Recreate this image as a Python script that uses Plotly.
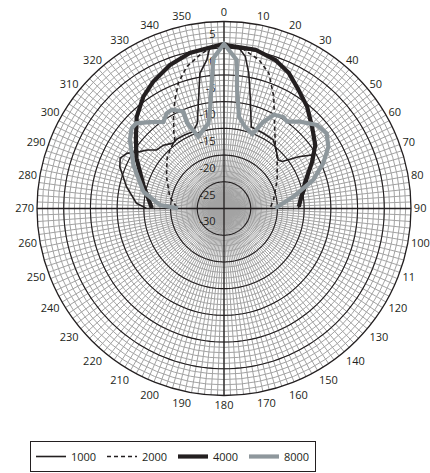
import plotly.graph_objects as go

# ---------------- data (dB, angle in degrees, clockwise from top) ----------------
theta_1000 = [270.1, 273.4, 282.6, 291.8, 295.9, 299.6, 304.1, 307.2, 311.0, 316.3, 322.1,
              325.8, 332.1, 338.0, 342.6, 345.8, 349.9, 353.4, 355.0, 0.0, 5.0, 8.0, 10.4,
              13.2, 18.5, 27.6, 35.7, 41.6, 48.1, 51.1, 55.3, 58.7, 65.9, 77.1, 90.0]
r_1000 = [-15.5, -13.6, -11.3, -9.0, -8.4, -9.1, -11.0, -11.9, -13.3, -13.6, -14.5,
          -14.3, -14.4, -14.5, -13.3, -10.3, -4.3, -2.0, 0.3, 0.8, 0.4, -1.3, -4.3,
          -8.5, -13.9, -14.1, -14.2, -15.3, -16.4, -16.0, -13.0, -10.7, -12.4, -14.4, -16.1]

theta_2000 = [271.8, 282.3, 298.9, 311.4, 317.3, 324.4, 326.5, 331.2, 335.7, 340.0, 345.3,
              351.1, 356.0, 0.0, 4.0, 7.0, 13.2, 18.3, 24.0, 31.8, 38.9, 46.6, 61.7, 80.2, 90.0]
r_2000 = [-21.1, -19.6, -17.7, -15.8, -15.1, -14.2, -13.0, -10.4, -7.7, -5.0, -2.55,
          -0.9, 0.4, 0.8, 0.5, 0.0, -1.4, -3.3, -7.1, -12.0, -14.7, -16.3, -18.7, -20.6, -21.4]

theta_4000 = [270.2, 286.2, 299.9, 308.6, 316.4, 324.2, 330.9, 339.4, 347.6, 357.4, 0.0,
              1.7, 11.2, 19.1, 25.6, 32.2, 39.2, 47.1, 55.2, 62.0, 71.8, 88.6]
r_4000 = [-16.5, -14.3, -11.1, -8.9, -6.3, -4.2, -2.8, -1.3, -0.2, 0.5, 0.8,
          0.5, 0.3, -0.6, -1.9, -3.8, -5.4, -7.5, -9.2, -11.3, -14.0, -16.0]

theta_8000 = [270.2, 273.1, 281.8, 295.6, 306.1, 311.0, 314.1, 319.3, 325.0, 329.1, 332.2,
              337.2, 336.6, 340.3, 349.6, 351.9, 354.4, 355.9, 0.0, 4.9, 6.3, 9.3, 14.4,
              20.9, 24.4, 28.1, 33.0, 36.0, 41.2, 48.0, 53.8, 59.4, 65.5, 72.3, 80.3, 89.8]
r_8000 = [-21.4, -18.0, -14.6, -11.2, -8.2, -7.1, -7.1, -8.7, -10.2, -9.2, -9.1,
          -10.3, -12.5, -15.7, -13.8, -11.4, -6.4, -1.8, 0.8, -2.1, -7.7, -12.6, -14.2,
          -15.1, -12.2, -10.1, -9.6, -9.9, -8.4, -6.6, -6.2, -7.3, -9.6, -12.5, -16.8, -20.4]

series_names = ["1000", "2000", "4000", "8000"]

angle_ticks = list(range(0, 360, 2))
angle_labels = [("11" if a == 110 else str(a)) if a % 10 == 0 else "" for a in angle_ticks]
radial_ticks = list(range(-30, 6))
radial_label_values = [5, 0, -5, -10, -15, -20, -25, -30]
radial_label_text = [str(v) for v in radial_label_values]
major_rings = [-25, -20, -15, -10, -5, 0]

# ---------------- figure ----------------
FONT = "Open Sans, Liberation Sans, sans-serif"
INK = "#231f20"
W, H = 430, 473
CX, CY, R = 224, 208.5, 187

fig = go.Figure()

ring_theta = list(range(0, 361, 2))
for lvl in major_rings:
    fig.add_trace(go.Scatterpolar(r=[lvl] * len(ring_theta), theta=ring_theta, mode="lines",
                                  line=dict(color=INK, width=1.1), showlegend=False,
                                  hoverinfo="skip"))
for a in (0, 90):
    fig.add_trace(go.Scatterpolar(r=[5, -30, 5], theta=[a, a, a + 180], mode="lines",
                                  line=dict(color=INK, width=1.3), showlegend=False,
                                  hoverinfo="skip"))

# radial scale labels, set just below each ring on the left of the 0° line
# (an invisible marker pushes the text a little away from the ring / line crossing)
fig.add_trace(go.Scatterpolar(r=radial_label_values, theta=[0] * len(radial_label_values),
                              mode="markers+text", text=radial_label_text,
                              textposition="bottom left",
                              marker=dict(size=12, color="rgba(0,0,0,0)"),
                              textfont=dict(family=FONT, size=11, color=INK),
                              showlegend=False, hoverinfo="skip", cliponaxis=False))

fig.add_trace(go.Scatterpolar(r=r_1000, theta=theta_1000, mode="lines", name=series_names[0],
                              line=dict(color=INK, width=1.6)))
fig.add_trace(go.Scatterpolar(r=r_2000, theta=theta_2000, mode="lines", name=series_names[1],
                              line=dict(color=INK, width=1.6, dash="4px,3px")))
fig.add_trace(go.Scatterpolar(r=r_4000, theta=theta_4000, mode="lines", name=series_names[2],
                              line=dict(color=INK, width=4.2)))
fig.add_trace(go.Scatterpolar(r=r_8000, theta=theta_8000, mode="lines", name=series_names[3],
                              line=dict(color="#8e979c", width=4.2)))

fig.update_layout(
    width=W, height=H,
    margin=dict(l=0, r=0, t=0, b=0),
    paper_bgcolor="white",
    font=dict(family=FONT, size=11, color=INK),
    polar=dict(
        domain=dict(x=[(CX - R) / W, (CX + R) / W], y=[1 - (CY + R) / H, 1 - (CY - R) / H]),
        bgcolor="white",
        angularaxis=dict(rotation=90, direction="clockwise", tickmode="array",
                         tickvals=angle_ticks, ticktext=angle_labels, ticks="",
                         showgrid=True, gridcolor="#a3a3a3", gridwidth=1,
                         showline=True, linecolor=INK, linewidth=1.3,
                         tickfont=dict(family=FONT, size=11, color=INK)),
        radialaxis=dict(range=[-30, 5], angle=90, tickmode="array", tickvals=radial_ticks,
                        showticklabels=False, ticks="", showline=False,
                        showgrid=True, gridcolor="#a3a3a3", gridwidth=1),
    ),
    showlegend=True,
    legend=dict(orientation="h", x=30 / W, y=1 - 472 / H, xanchor="left", yanchor="bottom",
                bordercolor=INK, borderwidth=1, entrywidth=26, font=dict(size=11, color=INK),
                bgcolor="white"),
)

fig.write_html("out.html", config={"displayModeBar": False},
               post_script="document.body.style.margin='0';")
